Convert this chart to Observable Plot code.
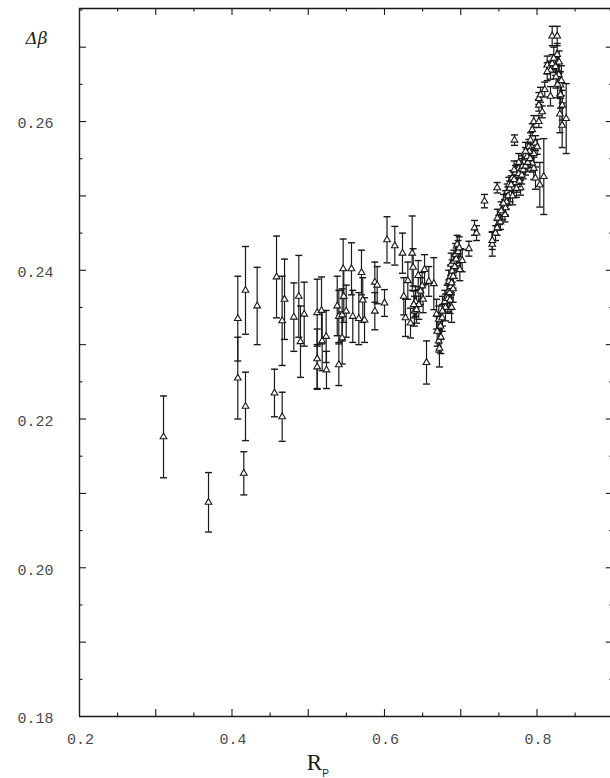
<!DOCTYPE html>
<html><head><meta charset="utf-8">
<script src="https://cdn.jsdelivr.net/npm/d3@7"></script>
<script src="https://cdn.jsdelivr.net/npm/@observablehq/plot@0.6"></script>
<style>
body{margin:0;background:#fff}
g[aria-label="ylabels"] text, g[aria-label="xlabels"] text{letter-spacing:1.5px}
</style>
</head><body><div id="chart"></div>
<script>
const rp = [
0.3102,0.3692,0.4076,0.4177,0.4330,0.4076,0.4177,0.4155,0.4557,0.4658,
0.4584,0.4658,0.4689,0.4811,0.4876,0.4898,0.4947,0.5117,0.5117,0.5117,
0.5174,0.5183,0.5235,0.5239,0.5380,0.5401,0.5401,0.5445,0.5458,0.5466,
0.5445,0.5498,0.5567,0.5584,0.5663,0.5698,0.5715,0.5738,0.5873,0.5904,
0.5873,0.6000,0.6033,0.6135,0.6236,0.6363,0.6376,0.6306,0.6253,0.6275,
0.6341,0.6442,0.6407,0.6450,0.6393,0.6525,0.6647,0.6581,0.6494,0.6472,
0.6506,0.6384,0.6420,0.6551,0.6682,0.6691,0.6712,0.6734,0.6757,0.6712,
0.6791,0.6822,0.6843,0.6866,0.6843,0.6866,0.6888,0.6875,0.6909,0.6931,
0.6953,0.6997,0.6988,0.7019,0.7106,0.7180,0.7207,0.7413,0.7413,0.7456,
0.7478,0.7499,0.7574,0.7311,0.7478,0.7587,0.7587,0.7609,0.7630,0.7675,
0.7718,0.7761,0.7806,0.7849,0.7893,0.7915,0.7980,0.8003,0.7705,0.7958,
0.8024,0.7937,0.8024,0.8068,0.8024,0.8046,0.8102,0.8177,0.8089,0.8037,
0.7958,0.7980,0.7784,0.7740,0.7872,0.7937,0.7958,0.8199,0.8265,0.8265,
0.8134,0.8199,0.8177,0.8134,0.8243,0.8286,0.8308,0.8308,0.8331,0.8383,
0.8220,0.8250,0.8290,0.8270,0.8320,0.8300,0.8330,0.7520,0.7550,0.7600,
0.7650,0.7690,0.7720,0.7750,0.7790,0.7830,0.7870,0.7900,0.7640,0.7700,
0.7760,0.7810,0.7580,
0.6800,0.6830,0.6855,0.6880,0.6900,0.6920,0.6940,0.6965,0.6980,0.6860,
0.6880,0.6900,0.6760,0.6740,0.6720,
0.7480,0.7530,0.7560,0.7620,0.7660,0.7680,0.7730,0.7770,0.7800,0.7820,
0.7850,0.7880,0.7910,0.7850,0.7760,0.7700];
const dBeta = [
0.2176,0.2088,0.2335,0.2373,0.2352,0.2255,0.2217,0.2127,0.2235,0.2203,
0.2391,0.2332,0.2361,0.2337,0.2365,0.2304,0.2341,0.2343,0.2281,0.2270,
0.2346,0.2305,0.2311,0.2266,0.2352,0.2338,0.2273,0.2340,0.2402,0.2365,
0.2309,0.2345,0.2402,0.2338,0.2335,0.2397,0.2360,0.2333,0.2384,0.2380,
0.2345,0.2356,0.2441,0.2433,0.2423,0.2423,0.2404,0.2386,0.2365,0.2336,
0.2329,0.2393,0.2358,0.2354,0.2345,0.2401,0.2382,0.2385,0.2379,0.2372,
0.2361,0.2354,0.2347,0.2276,0.2341,0.2318,0.2334,0.2325,0.2336,0.2305,
0.2358,0.2365,0.2372,0.2378,0.2385,0.2392,0.2399,0.2408,0.2412,0.2421,
0.2435,0.2414,0.2401,0.2413,0.2429,0.2457,0.2450,0.2435,0.2440,0.2450,
0.2457,0.2464,0.2485,0.2493,0.2511,0.2497,0.2484,0.2506,0.2515,0.2524,
0.2531,0.2537,0.2544,0.2555,0.2566,0.2575,0.2571,0.2566,0.2575,0.2600,
0.2600,0.2589,0.2631,0.2613,0.2622,0.2636,0.2643,0.2634,0.2526,0.2515,
0.2537,0.2524,0.2511,0.2515,0.2551,0.2544,0.2557,0.2715,0.2715,0.2690,
0.2676,0.2678,0.2669,0.2667,0.2674,0.2663,0.2649,0.2636,0.2622,0.2604,
0.2685,0.2660,0.2680,0.2650,0.2655,0.2610,0.2595,0.2465,0.2478,0.2492,
0.2502,0.2510,0.2518,0.2528,0.2535,0.2545,0.2553,0.2560,0.2510,0.2522,
0.2530,0.2540,0.2475,
0.2350,0.2362,0.2370,0.2383,0.2392,0.2405,0.2415,0.2425,0.2430,0.2360,
0.2350,0.2375,0.2345,0.2310,0.2295,
0.2470,0.2480,0.2490,0.2500,0.2515,0.2500,0.2510,0.2520,0.2528,0.2535,
0.2540,0.2545,0.2550,0.2560,0.2545,0.2535];
const sigma = [
0.0055,0.0040,0.0057,0.0059,0.0052,0.0055,0.0046,0.0029,0.0032,0.0033,
0.0055,0.0060,0.0054,0.0046,0.0055,0.0048,0.0043,0.0045,0.0040,0.0030,
0.0045,0.0040,0.0035,0.0025,0.0040,0.0035,0.0028,0.0035,0.0040,0.0035,
0.0035,0.0035,0.0035,0.0035,0.0035,0.0030,0.0030,0.0030,0.0027,0.0025,
0.0025,0.0018,0.0031,0.0026,0.0027,0.0050,0.0025,0.0025,0.0025,0.0025,
0.0020,0.0020,0.0020,0.0020,0.0020,0.0020,0.0035,0.0020,0.0018,0.0018,
0.0018,0.0018,0.0018,0.0029,0.0020,0.0020,0.0018,0.0018,0.0018,0.0015,
0.0015,0.0015,0.0015,0.0015,0.0015,0.0015,0.0015,0.0015,0.0015,0.0015,
0.0012,0.0015,0.0015,0.0015,0.0010,0.0010,0.0010,0.0016,0.0012,0.0010,
0.0010,0.0010,0.0010,0.0009,0.0007,0.0010,0.0010,0.0010,0.0010,0.0010,
0.0010,0.0010,0.0010,0.0010,0.0010,0.0010,0.0010,0.0010,0.0007,0.0008,
0.0008,0.0008,0.0008,0.0008,0.0008,0.0010,0.0010,0.0013,0.0051,0.0030,
0.0015,0.0015,0.0010,0.0010,0.0012,0.0012,0.0012,0.0013,0.0013,0.0015,
0.0012,0.0012,0.0012,0.0012,0.0012,0.0015,0.0018,0.0018,0.0020,0.0047,
0.0015,0.0015,0.0015,0.0018,0.0020,0.0025,0.0030,0.0010,0.0010,0.0010,
0.0010,0.0010,0.0010,0.0010,0.0010,0.0010,0.0010,0.0010,0.0010,0.0010,
0.0010,0.0010,0.0010,
0.0018,0.0018,0.0018,0.0016,0.0016,0.0016,0.0015,0.0015,0.0015,0.0018,
0.0020,0.0018,0.0020,0.0022,0.0025,
0.0012,0.0012,0.0012,0.0012,0.0012,0.0012,0.0012,0.0012,0.0012,0.0012,
0.0012,0.0012,0.0012,0.0012,0.0012,0.0012];

const xMajorTicks = [0.3,0.4,0.5,0.6,0.7,0.8];
const xMinorTicks = [0.25,0.35,0.45,0.55,0.65,0.75,0.85];
const yMajorTicks = [0.19,0.20,0.21,0.22,0.23,0.24,0.25,0.26,0.27];
const yMinorTicks = [0.185,0.195,0.205,0.215,0.225,0.235,0.245,0.255,0.265,0.275];
const xTickLabels = [0.2,0.4,0.6,0.8];
const yTickLabels = [0.18,0.20,0.22,0.24,0.26];
const xDomain = [0.2,0.9];
const yDomain = [0.18,0.2752];

const W = 610, H = 778, mL = 79, mR = -2.75, mT = 8, mB = 62;
const xs = d3.scaleLinear(xDomain, [mL, W - mR]);
const ys = d3.scaleLinear(yDomain, [H - mB, mT]);
const data = rp.map((x, i) => ({x, y: dBeta[i], lo: dBeta[i] - sigma[i], hi: dBeta[i] + sigma[i]}));

const cap = {draw(ctx, size) { const w = Math.sqrt(size / Math.PI); ctx.moveTo(-w, 0); ctx.lineTo(w, 0); }};

const yAt = px => ys.invert(px);
const xAt = px => xs.invert(px);
const B = H - mB, T = mT, Lx = mL, Rx = W - mR;
const ink = "#1a1a1a";
const cx = (mL + W - mR) / 2;

const plot = Plot.plot({
  width: W, height: H,
  marginLeft: mL, marginRight: mR, marginTop: mT, marginBottom: mB,
  x: {domain: xDomain, range: [mL, W - mR], axis: null},
  y: {domain: yDomain, range: [H - mB, mT], axis: null},
  style: {background: "#fff", color: ink, fontFamily: "Liberation Mono, DejaVu Sans Mono, monospace"},
  marks: [
    Plot.ruleX([xDomain[0], xDomain[1]], {stroke: ink, strokeWidth: 1.4}),
    Plot.ruleY([yDomain[0], yDomain[1]], {stroke: ink, strokeWidth: 1.4}),
    Plot.ruleX(xMajorTicks, {x: d => d, y1: yDomain[0], y2: yAt(B - 7), stroke: ink, strokeWidth: 1.1}),
    Plot.ruleX(xMinorTicks, {x: d => d, y1: yDomain[0], y2: yAt(B - 3.5), stroke: ink, strokeWidth: 1.1}),
    Plot.ruleX(xMajorTicks, {x: d => d, y1: yDomain[1], y2: yAt(T + 7), stroke: ink, strokeWidth: 1.1}),
    Plot.ruleX(xMinorTicks, {x: d => d, y1: yDomain[1], y2: yAt(T + 3.5), stroke: ink, strokeWidth: 1.1}),
    Plot.ruleY(yMajorTicks, {y: d => d, x1: xDomain[0], x2: xAt(Lx + 7), stroke: ink, strokeWidth: 1.1}),
    Plot.ruleY(yMinorTicks, {y: d => d, x1: xDomain[0], x2: xAt(Lx + 3.5), stroke: ink, strokeWidth: 1.1}),
    Plot.ruleY(yMajorTicks, {y: d => d, x1: xDomain[1], x2: xAt(Rx - 7), stroke: ink, strokeWidth: 1.1}),
    Plot.ruleY(yMinorTicks, {y: d => d, x1: xDomain[1], x2: xAt(Rx - 3.5), stroke: ink, strokeWidth: 1.1}),
    Plot.text(yTickLabels, {ariaLabel: "ylabels", y: d => d, frameAnchor: "left", text: d => d.toFixed(2),
      textAnchor: "end", dx: -26, dy: 2, fontSize: 15, fill: "#4a4a4a"}),
    Plot.text(xTickLabels, {ariaLabel: "xlabels", x: d => d, frameAnchor: "bottom", text: d => d.toFixed(1),
      lineAnchor: "middle", dy: 23, dx: 1, fontSize: 15, fill: "#4a4a4a"}),
    Plot.text(["Δβ"], {frameAnchor: "top-left", dx: -54, dy: 23, fontSize: 17, fontStyle: "italic",
      fontFamily: "DejaVu Serif, serif", fill: ink}),
    Plot.text(["R"], {frameAnchor: "bottom", dx: 314 - cx, dy: 46, lineAnchor: "middle",
      fontSize: 23, fontFamily: "Liberation Serif, serif", fill: ink}),
    Plot.text(["P"], {frameAnchor: "bottom", dx: 325 - cx, dy: 57, lineAnchor: "middle",
      fontSize: 10, fontFamily: "Liberation Sans, sans-serif", fill: ink}),
    Plot.ruleX(data, {x: "x", y1: "lo", y2: "hi", stroke: ink, strokeWidth: 1.2}),
    Plot.dot(data, {x: "x", y: "hi", symbol: cap, r: 3.5, stroke: ink, fill: "none", strokeWidth: 1.4}),
    Plot.dot(data, {x: "x", y: "lo", symbol: cap, r: 3.5, stroke: ink, fill: "none", strokeWidth: 1.4}),
    Plot.dot(data, {x: "x", y: "y", symbol: "triangle", r: 2.5, stroke: ink, fill: "#fff", strokeWidth: 1.1})
  ]
});
document.getElementById("chart").appendChild(plot);
</script>
</body></html>
